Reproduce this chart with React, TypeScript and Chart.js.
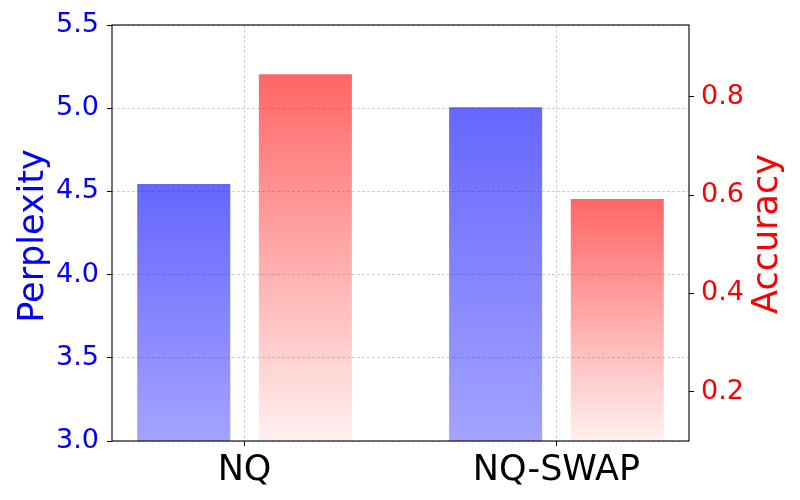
import React, { useEffect, useRef } from "react";
import { Chart, registerables } from "chart.js";

Chart.register(...registerables);

const categories = ["NQ", "NQ-SWAP"];
const perplexity = [4.545, 5.006];
const accuracy = [0.846, 0.592];
const perplexityTicks = [3.0, 3.5, 4.0, 4.5, 5.0, 5.5];
const accuracyTicks = [0.2, 0.4, 0.6, 0.8];

const FONT = "'DejaVu Sans', sans-serif";

function gradientFill(rgb: string, aTop: number, aBot: number, axisId: string) {
  return (ctx: any) => {
    const chart = ctx.chart;
    const area = chart.chartArea;
    const scale = chart.scales[axisId];
    if (!area || !scale || ctx.type !== "data") return `rgba(${rgb},${aTop})`;
    const v = ctx.parsed ? ctx.parsed.y : ctx.raw.y;
    const yTop = scale.getPixelForValue(v);
    const g = chart.ctx.createLinearGradient(0, yTop, 0, area.bottom);
    g.addColorStop(0, `rgba(${rgb},${aTop})`);
    g.addColorStop(1, `rgba(${rgb},${aBot})`);
    return g;
  };
}

const framePlugin = {
  id: "frame",
  afterDraw(chart: any) {
    const { ctx, chartArea } = chart;
    ctx.save();
    ctx.strokeStyle = "#000";
    ctx.lineWidth = 1.1;
    ctx.strokeRect(chartArea.left, chartArea.top, chartArea.right - chartArea.left, chartArea.bottom - chartArea.top);
    const cy = (chartArea.top + chartArea.bottom) / 2;
    ctx.font = `35px ${FONT}`;
    ctx.textAlign = "center";
    ctx.textBaseline = "alphabetic";
    ctx.fillStyle = "#0000ff";
    ctx.translate(43, cy + 3);
    ctx.rotate(-Math.PI / 2);
    ctx.fillText("Perplexity", 0, 0);
    ctx.restore();
    ctx.save();
    ctx.font = `35px ${FONT}`;
    ctx.textAlign = "center";
    ctx.textBaseline = "alphabetic";
    ctx.fillStyle = "#ff0000";
    ctx.translate(777, cy + 1);
    ctx.rotate(-Math.PI / 2);
    ctx.fillText("Accuracy", 0, 0);
    ctx.restore();
  },
};

export default function App() {
  const ref = useRef<HTMLCanvasElement>(null);
  useEffect(() => {
    document.body.style.margin = "0";
    const gridColor = "rgba(176,176,176,0.75)";
    const chart = new Chart(ref.current!, {
      type: "bar",
      data: {
        datasets: [
          {
            label: "Perplexity",
            data: perplexity.map((y, i) => ({ x: i, y })),
            yAxisID: "y",
            backgroundColor: gradientFill("0,0,255", 0.6, 0.36, "y"),
            borderWidth: 0,
            barPercentage: 0.765,
            categoryPercentage: 0.78,
          },
          {
            label: "Accuracy",
            data: accuracy.map((y, i) => ({ x: i, y })),
            yAxisID: "y1",
            backgroundColor: gradientFill("255,0,0", 0.6, 0.06, "y1"),
            borderWidth: 0,
            barPercentage: 0.765,
            categoryPercentage: 0.78,
          },
        ] as any,
      },
      options: {
        responsive: false,
        animation: false,
        layout: { padding: { top: 25, left: 0, right: 0, bottom: 0 } },
        plugins: { legend: { display: false }, tooltip: { enabled: false } },
        scales: {
          x: {
            type: "linear",
            min: -0.425,
            max: 1.425,
            offset: false,
            z: 1,
            afterBuildTicks: (s: any) => {
              s.ticks = categories.map((_, i) => ({ value: i }));
            },
            afterFit: (s: any) => {
              s.height = 59;
            },
            ticks: {
              callback: (v: any) => categories[Math.round(Number(v))] ?? "",
              color: "#000",
              font: { family: FONT, size: 35 },
              padding: 4,
              maxRotation: 0,
              autoSkip: false,
            },
            grid: {
              offset: false,
              color: gridColor,
              lineWidth: 0.8,
              tickColor: "#000",
              tickBorderDash: [],
              tickWidth: 1,
              tickLength: 5,
              drawOnChartArea: true,
            } as any,
            border: { display: false, dash: [3, 2] },
          },
          y: {
            type: "linear",
            position: "left",
            min: 3.0,
            max: 5.5,
            z: 1,
            afterBuildTicks: (s: any) => {
              s.ticks = perplexityTicks.map((value) => ({ value }));
            },
            afterFit: (s: any) => {
              s.width = 112;
            },
            ticks: {
              callback: (v: any) => Number(v).toFixed(1),
              color: "#0000ff",
              font: { family: FONT, size: 27 },
              padding: 8,
            },
            grid: {
              color: gridColor,
              lineWidth: 0.8,
              tickColor: "#000",
              tickBorderDash: [],
              tickWidth: 1,
              tickLength: 5,
            } as any,
            border: { display: false, dash: [3, 2] },
          },
          y1: {
            type: "linear",
            position: "right",
            min: 0.1,
            max: 0.946,
            z: 1,
            afterBuildTicks: (s: any) => {
              s.ticks = accuracyTicks.map((value) => ({ value }));
            },
            afterFit: (s: any) => {
              s.width = 111;
            },
            ticks: {
              callback: (v: any) => Number(v).toFixed(1),
              color: "#ff0000",
              font: { family: FONT, size: 27 },
              padding: 7,
            },
            grid: {
              drawOnChartArea: false,
              tickColor: "#000",
              tickWidth: 1,
              tickLength: 5,
            },
            border: { display: false },
          },
        },
      } as any,
      plugins: [framePlugin],
    });
    return () => chart.destroy();
  }, []);
  return (
    <div style={{ width: 800, height: 500 }}>
      <canvas ref={ref} width={800} height={500} />
    </div>
  );
}
